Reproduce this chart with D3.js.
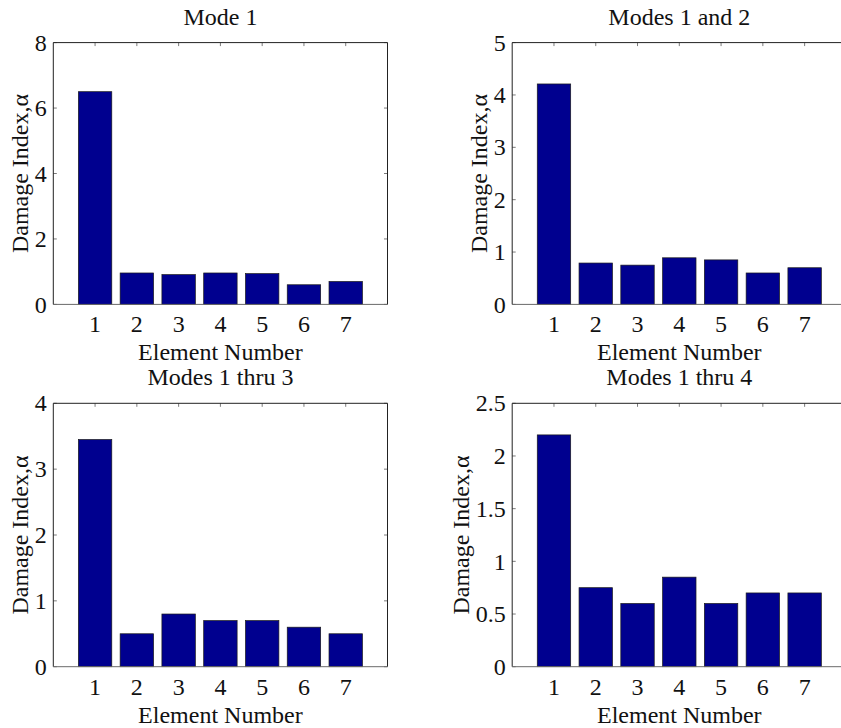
<!DOCTYPE html>
<html>
<head>
<meta charset="utf-8">
<script src="https://cdn.jsdelivr.net/npm/d3@7/dist/d3.min.js"></script>
<style>
  html, body { margin: 0; padding: 0; background: #fff; }
  svg { display: block; }
  svg text { font-family: 'Liberation Serif', 'Times New Roman', 'DejaVu Serif', serif; }
</style>
</head>
<body>
<svg id="fig" width="841" height="728"></svg>
<script>
// Element numbers along the x axis
const elements = [1, 2, 3, 4, 5, 6, 7];

// Damage index per element for each set of modes
const mode1 = [6.5, 0.96, 0.91, 0.96, 0.94, 0.6, 0.7];
const modes12 = [4.21, 0.79, 0.75, 0.89, 0.85, 0.6, 0.7];
const modes123 = [3.45, 0.5, 0.8, 0.7, 0.7, 0.6, 0.5];
const modes1234 = [2.2, 0.75, 0.6, 0.85, 0.6, 0.7, 0.7];

// Panel titles
const titles = ["Mode 1", "Modes 1 and 2", "Modes 1 thru 3", "Modes 1 thru 4"];

// y tick labels per panel
const yTicks1 = [0, 2, 4, 6, 8];
const yTicks2 = [0, 1, 2, 3, 4, 5];
const yTicks3 = [0, 1, 2, 3, 4];
const yTicks4 = [0, 0.5, 1, 1.5, 2, 2.5];

const xLabel = "Element Number";
const yLabel = "Damage Index,\u03B1";

const panels = [
  { title: titles[0], values: mode1, ticks: yTicks1, left: 53.3, top: 42.6, bottom: 304.4 },
  { title: titles[1], values: modes12, ticks: yTicks2, left: 512.2, top: 42.6, bottom: 304.4 },
  { title: titles[2], values: modes123, ticks: yTicks3, left: 53.3, top: 403.3, bottom: 666.7 },
  { title: titles[3], values: modes1234, ticks: yTicks4, left: 512.2, top: 403.3, bottom: 666.7 }
];

const plotW = 334.2;
const fontSize = 24;
const fontFamily = "'Liberation Serif', 'Times New Roman', 'DejaVu Serif', serif";
const barFill = "#00008f";
const tickLen = 3.5;

const svg = d3.select("#fig");

function label(sel) {
  return sel.attr("font-family", fontFamily)
    .attr("font-size", fontSize)
    .attr("fill", "#111");
}

panels.forEach(p => {
  const x = d3.scaleLinear().domain([0, 8]).range([p.left, p.left + plotW]);
  const yMax = p.ticks[p.ticks.length - 1];
  const y = d3.scaleLinear().domain([0, yMax]).range([p.bottom, p.top]);
  const g = svg.append("g");

  // bars
  g.selectAll("rect.bar")
    .data(p.values)
    .join("rect")
    .attr("class", "bar")
    .attr("x", (d, i) => x(elements[i] - 0.4))
    .attr("width", (d, i) => x(elements[i] + 0.4) - x(elements[i] - 0.4))
    .attr("y", d => y(d))
    .attr("height", d => y(0) - y(d))
    .attr("fill", barFill)
    .attr("stroke", "#1a1a1a")
    .attr("stroke-width", 0.7);

  // inward ticks on all four sides (box on)
  const tickStroke = "#7a7a7a";
  elements.forEach(e => {
    g.append("line").attr("x1", x(e)).attr("x2", x(e))
      .attr("y1", p.top).attr("y2", p.top + tickLen)
      .attr("stroke", tickStroke).attr("stroke-width", 1);
  });
  p.ticks.forEach(t => {
    g.append("line").attr("x1", p.left).attr("x2", p.left + tickLen)
      .attr("y1", y(t)).attr("y2", y(t))
      .attr("stroke", tickStroke).attr("stroke-width", 1);
    g.append("line").attr("x1", p.left + plotW).attr("x2", p.left + plotW - tickLen)
      .attr("y1", y(t)).attr("y2", y(t))
      .attr("stroke", tickStroke).attr("stroke-width", 1);
  });

  // axes box
  g.append("line").attr("x1", p.left).attr("x2", p.left + plotW)
    .attr("y1", p.top).attr("y2", p.top).attr("stroke", "#222").attr("stroke-width", 1);
  g.append("line").attr("x1", p.left).attr("x2", p.left)
    .attr("y1", p.top).attr("y2", p.bottom).attr("stroke", "#222").attr("stroke-width", 1);
  g.append("line").attr("x1", p.left + plotW).attr("x2", p.left + plotW)
    .attr("y1", p.top).attr("y2", p.bottom).attr("stroke", "#222").attr("stroke-width", 1);
  g.append("line").attr("x1", p.left).attr("x2", p.left + plotW)
    .attr("y1", p.bottom).attr("y2", p.bottom).attr("stroke", "#6a6a6a").attr("stroke-width", 1);

  // x tick labels
  g.selectAll("text.xt")
    .data(elements)
    .join("text")
    .attr("class", "xt")
    .attr("x", d => x(d))
    .attr("y", p.bottom + 28)
    .attr("text-anchor", "middle")
    .call(label)
    .text(d => d);

  // y tick labels
  const yt = g.append("g");
  yt.selectAll("text")
    .data(p.ticks)
    .join("text")
    .attr("x", p.left - 6.5)
    .attr("y", d => y(d))
    .attr("dy", "0.34em")
    .attr("text-anchor", "end")
    .call(label)
    .text(d => d);
  const tw = yt.node().getBBox().width;

  // axis labels
  g.append("text")
    .attr("x", x(4))
    .attr("y", p.bottom + 56)
    .attr("text-anchor", "middle")
    .call(label)
    .text(xLabel);

  const ly = (p.top + p.bottom) / 2;
  const lx = p.left - 6.5 - tw - 7;
  g.append("text")
    .attr("transform", `translate(${lx},${ly}) rotate(-90)`)
    .attr("text-anchor", "middle")
    .call(label)
    .text(yLabel);

  // title
  g.append("text")
    .attr("x", x(4))
    .attr("y", p.top - 18)
    .attr("text-anchor", "middle")
    .call(label)
    .text(p.title);
});
</script>
</body>
</html>
